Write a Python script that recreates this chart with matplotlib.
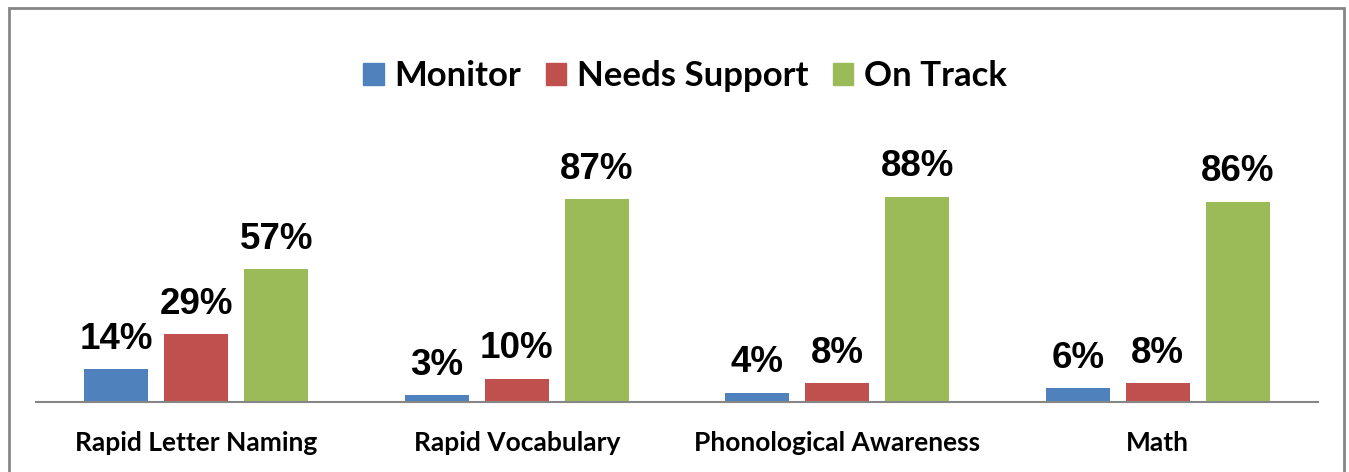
import matplotlib
matplotlib.use("Agg")
import matplotlib.pyplot as plt
from matplotlib.patches import Rectangle, Patch
import numpy as np

categories = ["Rapid Letter Naming", "Rapid Vocabulary", "Phonological Awareness", "Math"]
series = ["Monitor", "Needs Support", "On Track"]
monitor = [14, 3, 4, 6]
needs_support = [29, 10, 8, 8]
on_track = [57, 87, 88, 86]
colors = ["#4F81BD", "#C0504D", "#9BBB59"]

W, H = 1349, 472
fig = plt.figure(figsize=(W / 100, H / 100), dpi=100)

# chart frame (bottom edge runs off the image)
fig.patches.append(Rectangle((8.5 / W, -0.05), (1343.5 - 8.5) / W, 1.05 - 8 / H,
                             transform=fig.transFigure, fill=False,
                             edgecolor="#868686", linewidth=2))

ax = fig.add_axes([36 / W, (H - 402) / H, (1318 - 36) / W, 233 / H])
x = np.arange(len(categories))
bw = 64 / 320.5
step = 80 / 320.5

for i, (name, vals) in enumerate(zip(series, [monitor, needs_support, on_track])):
    pos = x + (i - 1) * step
    bars = ax.bar(pos, vals, width=bw, color=colors[i], label=name, zorder=2)
    for b, v in zip(bars, vals):
        ax.annotate(f"{v}%", (b.get_x() + b.get_width() / 2, v),
                    xytext=(0, 9), textcoords="offset points",
                    ha="center", va="bottom", fontsize=26.5, fontweight="bold",
                    family="Liberation Sans")

ax.set_xlim(-0.5, len(categories) - 0.5)
ax.set_ylim(0, 100)
ax.set_yticks([])
ax.set_xticks(x)
ax.set_xticklabels(categories, fontsize=19, fontweight="bold", family="Lato")
ax.tick_params(axis="x", length=0, pad=21)
for s in ["top", "right", "left"]:
    ax.spines[s].set_visible(False)
ax.spines["bottom"].set_color("#868686")
ax.spines["bottom"].set_linewidth(1.5)

handles = [Patch(color=c) for c in colors]
fig.legend(handles, series, loc="center", bbox_to_anchor=(685 / W, 1 - 76 / H),
           ncol=3, frameon=False, handlelength=0.6, handleheight=0.6,
           handletextpad=0.3, columnspacing=0.7,
           prop={"family": "Lato", "weight": "bold", "size": 25})

fig.savefig("out.png", dpi=100)
